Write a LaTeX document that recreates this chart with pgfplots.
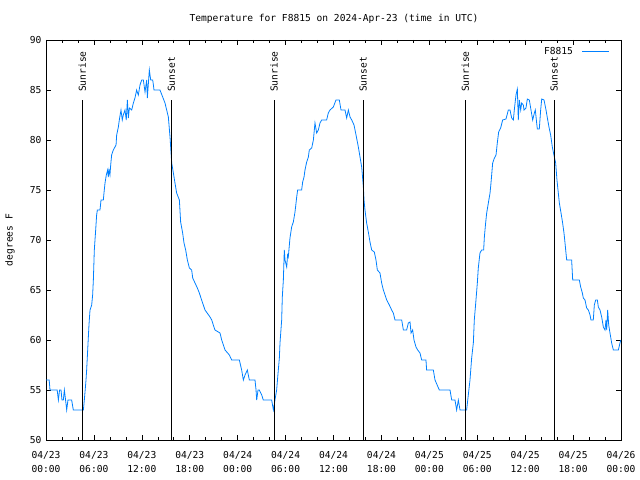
\documentclass[border=0pt]{standalone}
\usepackage{pgfplots}
\pgfplotsset{compat=1.18}
\usepackage{fontspec}
\setmainfont{DejaVu Sans Mono}
\definecolor{tblue}{RGB}{0,128,255}
\begin{document}
\begin{tikzpicture}[font=\fontsize{9.6bp}{11bp}\selectfont]
\useasboundingbox (0,0) rectangle (640bp,480bp);
\begin{axis}[at={(46bp,40bp)}, anchor=south west, scale only axis,
  width=575bp, height=400bp,
  xmin=0, xmax=72, ymin=50, ymax=90,
  xtick={0,6,...,72},
  xticklabels={{04/23\\00:00},{04/23\\06:00},{04/23\\12:00},{04/23\\18:00},{04/24\\00:00},{04/24\\06:00},{04/24\\12:00},{04/24\\18:00},{04/25\\00:00},{04/25\\06:00},{04/25\\12:00},{04/25\\18:00},{04/26\\00:00}},
  ytick={50,55,...,90},
  minor x tick num=2,
  tick align=inside,
  major tick length=5bp, minor tick length=3bp,
  axis line style={line width=0.8bp},
  every tick/.style={black, line width=0.6bp},
  xticklabel style={align=center, font=\fontsize{9.6bp}{14.5bp}\selectfont, yshift=-7.5bp},
  yticklabel style={xshift=-1bp},
  /pgf/number format/assume math mode=true,
  legend plot pos=right,
  legend cell align=right,
  legend style={draw=none, fill=none, at={(1,1)}, anchor=north east, xshift=-8bp, yshift=-3bp, font=\fontsize{9.6bp}{11bp}\selectfont},
  legend image code/.code={\path (0bp,0bp); \draw[#1] (7bp,0bp) -- (34bp,0bp);},
  clip=true,
]
\addplot[tblue, line width=0.8bp] table {
x y
0.0 56
0.4 56
0.5 55
1.4 55
1.55 54
1.7 55
1.88 55
2.0 54
2.17 54
2.3 55
2.45 54
2.59 53
2.75 54
2.92 54
3.21 54
3.42 53
4.68 53
4.80 54
5.01 56
5.09 57
5.22 59
5.38 61.5
5.51 63
5.72 63.5
5.84 64.5
5.93 66
6.05 69
6.22 71
6.34 72.5
6.43 73
6.76 73
6.89 74
7.18 74
7.26 74.7
7.39 75.7
7.55 76.5
7.72 77
7.80 76.3
7.89 77
8.01 76.5
8.1 77.5
8.22 78.5
8.43 79
8.77 79.5
8.85 80.5
9.06 81.3
9.18 82
9.39 83
9.55 82
9.68 82.5
9.89 83
10.05 82
10.19 84
10.31 82.2
10.44 83.2
10.73 83
10.94 83.7
11.14 84.2
11.35 85
11.56 84.5
11.77 85.5
11.98 86
12.19 86
12.40 84.8
12.61 86
12.69 84.2
12.94 87
13.11 86
13.36 86
13.45 85.5
13.52 85
14.27 85
14.61 84.3
14.90 83.7
15.11 83
15.32 82.3
15.53 80.3
15.74 77.7
15.95 76.7
16.15 75.7
16.36 74.7
16.70 74
16.86 71.8
17.11 70.7
17.28 69.7
17.49 69
17.70 68
17.95 67.2
18.24 67
18.37 66.2
18.66 65.7
18.95 65.2
19.20 64.7
19.49 64
19.70 63.5
19.91 63
20.54 62.3
20.75 62
20.95 61.5
21.16 61
21.79 60.7
22.00 60
22.21 59.5
22.42 59
22.96 58.5
23.25 58
24.21 58
24.50 57
24.71 56
24.92 56.5
25.21 57
25.46 56
26.17 56
26.30 55
26.38 54
26.55 55
26.71 55
27.01 54.5
27.21 54
28.26 54
28.47 53
28.67 54
28.88 55
29.09 57
29.22 58.2
29.30 59.7
29.51 62
29.59 64.3
29.72 66
29.84 69
29.93 68
30.14 67.3
30.25 68.5
30.34 68.3
30.55 70.2
30.76 71.3
30.97 71.8
31.18 72.8
31.39 74.3
31.51 75
32.01 75
32.14 75.8
32.31 76.3
32.43 77
32.64 77.8
32.85 78.3
32.97 79
33.27 79.2
33.48 80
33.68 81.7
33.89 80.7
34.10 81
34.31 81.7
34.52 82
35.14 82
35.35 82.7
35.56 83
35.98 83.3
36.31 84
36.73 84
36.94 83
37.44 83
37.65 82.2
37.86 83
38.07 82.3
38.28 82
38.57 81.5
38.82 80.5
39.11 79.3
39.32 78.3
39.53 77.3
39.74 75.3
39.82 74
39.94 73
40.15 71.7
40.36 70.8
40.57 69.8
40.78 69
41.11 68.8
41.32 68
41.49 67
41.82 66.7
42.03 65.7
42.24 65
42.45 64.5
42.66 64
42.99 63.5
43.28 63
43.49 62.7
43.70 62
44.54 62
44.75 61
45.16 61
45.37 61.7
45.58 61.8
45.71 60.7
45.91 61
46.08 60
46.33 59.3
46.54 59
46.83 58.7
47.04 58
47.58 58
47.66 57
48.50 57
48.71 56
49.25 55
50.59 55
50.80 54
51.21 54
51.42 53
51.63 54
51.84 53
52.67 53
52.88 54.5
53.09 56
53.30 58.2
53.51 59.7
53.63 62
53.84 64
54.01 65.7
54.13 67.2
54.34 68.7
54.55 69
54.80 69
54.89 70.3
55.05 71.7
55.18 72.7
55.39 73.7
55.60 74.7
55.72 75.7
55.93 77.7
56.10 78.1
56.35 78.5
56.51 79.7
56.68 80.8
56.93 81.2
57.18 82
57.60 82.1
57.89 83
58.10 83
58.31 82.2
58.52 82
58.64 83
58.85 84.5
59.02 85.1
59.14 82
59.27 84
59.44 83
59.56 83.7
59.77 83.5
59.85 83
60.10 83.2
60.27 84.1
60.52 84
60.73 83
60.94 82
61.15 82.7
61.27 83
61.44 81.7
61.52 81.1
61.77 81.1
61.94 83
62.07 84.1
62.36 84
62.61 83
62.78 82.2
62.98 81.3
63.19 80.5
63.40 79.3
63.65 78.3
63.82 77.7
63.98 76
64.28 73.7
64.49 72.7
64.69 71.7
64.86 70.7
64.99 69.7
65.11 68.7
65.20 68
65.82 68
65.95 66
66.78 66
66.95 65.3
67.16 64.7
67.28 64.2
67.49 64
67.70 63.2
67.91 63
68.12 62.5
68.24 62
68.53 62
68.66 63.5
68.83 64
69.04 64
69.16 63.3
69.37 63
69.58 62.3
69.79 61.3
70.00 61
70.12 62
70.21 61
70.33 63
70.46 61.5
70.62 60.7
70.83 59.7
71.04 59
71.67 59
71.87 59.7
72.0 60
};
\addlegendentry{F8815}
\addplot[black, line width=0.8bp, forget plot] coordinates {(4.53,50) (4.53,84)};
\addplot[black, line width=0.8bp, forget plot] coordinates {(15.70,50) (15.70,84)};
\addplot[black, line width=0.8bp, forget plot] coordinates {(28.57,50) (28.57,84)};
\addplot[black, line width=0.8bp, forget plot] coordinates {(39.72,50) (39.72,84)};
\addplot[black, line width=0.8bp, forget plot] coordinates {(52.49,50) (52.49,84)};
\addplot[black, line width=0.8bp, forget plot] coordinates {(63.63,50) (63.63,84)};
\node[rotate=90, anchor=west, inner sep=0pt] at (axis cs:4.53,84.8) {Sunrise};
\node[rotate=90, anchor=west, inner sep=0pt] at (axis cs:15.70,84.8) {Sunset};
\node[rotate=90, anchor=west, inner sep=0pt] at (axis cs:28.57,84.8) {Sunrise};
\node[rotate=90, anchor=west, inner sep=0pt] at (axis cs:39.72,84.8) {Sunset};
\node[rotate=90, anchor=west, inner sep=0pt] at (axis cs:52.49,84.8) {Sunrise};
\node[rotate=90, anchor=west, inner sep=0pt] at (axis cs:63.63,84.8) {Sunset};
\end{axis}
\node at (334bp,461bp) {Temperature for F8815 on 2024-Apr-23 (time in UTC)};
\node[rotate=90] at (10bp,240bp) {degrees F};
\end{tikzpicture}
\end{document}
